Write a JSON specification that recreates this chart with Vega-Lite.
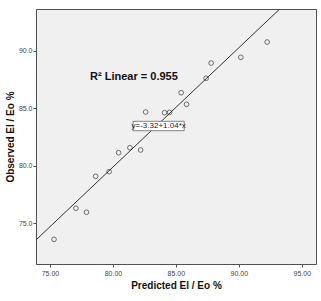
{
  "$schema": "https://vega.github.io/schema/vega-lite/v6.json",
  "width": 280,
  "height": 255,
  "autosize": {"type": "none"},
  "padding": {"left": 36, "top": 9, "right": 5, "bottom": 37},
  "background": "white",
  "config": {
    "view": {"fill": "#f0f0f0", "stroke": "#505050", "strokeWidth": 1},
    "font": "Liberation Sans",
    "axis": {
      "grid": false,
      "domain": false,
      "tickColor": "#555555",
      "tickSize": 3,
      "labelFontSize": 7,
      "labelColor": "#444444",
      "titleFontSize": 10,
      "titleFontWeight": "bold",
      "titleColor": "#111111"
    }
  },
  "datasets": {
    "points": [
      {"pred": 75.32, "obs": 73.58},
      {"pred": 77.06, "obs": 76.29},
      {"pred": 77.9, "obs": 75.94},
      {"pred": 78.63, "obs": 79.07},
      {"pred": 79.7, "obs": 79.48},
      {"pred": 80.45, "obs": 81.13},
      {"pred": 81.35, "obs": 81.57},
      {"pred": 82.2, "obs": 81.37},
      {"pred": 82.6, "obs": 84.68},
      {"pred": 84.1, "obs": 84.62},
      {"pred": 84.5, "obs": 84.65},
      {"pred": 85.42, "obs": 86.36},
      {"pred": 85.85, "obs": 85.35},
      {"pred": 87.4, "obs": 87.62},
      {"pred": 87.8, "obs": 88.95},
      {"pred": 90.16, "obs": 89.45},
      {"pred": 92.25, "obs": 90.78}
    ],
    "fit": [
      {"pred": 73.9, "obs": 73.536},
      {"pred": 96.1, "obs": 96.624}
    ],
    "box": [
      {"x1": 81.6, "x2": 85.66, "y1": 83.05, "y2": 83.87, "xc": 83.63, "yc": 83.46, "label": "y=-3.32+1.04*x"}
    ],
    "r2": [
      {"x": 81.67, "y": 87.73, "label": "R² Linear = 0.955"}
    ]
  },
  "layer": [
    {
      "data": {"name": "fit"},
      "mark": {"type": "line", "color": "#333333", "strokeWidth": 1, "clip": true},
      "encoding": {
        "x": {
          "field": "pred", "type": "quantitative",
          "scale": {"domain": [73.89, 96.13], "nice": false, "zero": false},
          "axis": {"values": [75, 80, 85, 90, 95], "format": ".2f", "title": "Predicted El / Eo %", "titlePadding": 4, "labelPadding": 2}
        },
        "y": {
          "field": "obs", "type": "quantitative",
          "scale": {"domain": [71.43, 93.66], "nice": false, "zero": false},
          "axis": {"values": [75, 80, 85, 90], "format": ".1f", "title": "Observed El / Eo %", "titlePadding": 3, "labelPadding": 1}
        }
      }
    },
    {
      "data": {"name": "points"},
      "mark": {"type": "point", "shape": "circle", "filled": false, "stroke": "#222222", "strokeWidth": 0.9, "size": 22},
      "encoding": {
        "x": {"field": "pred", "type": "quantitative"},
        "y": {"field": "obs", "type": "quantitative"}
      }
    },
    {
      "data": {"name": "box"},
      "mark": {"type": "rect", "fill": "white", "stroke": "#666666", "strokeWidth": 0.8},
      "encoding": {
        "x": {"field": "x1", "type": "quantitative"},
        "x2": {"field": "x2"},
        "y": {"field": "y1", "type": "quantitative"},
        "y2": {"field": "y2"}
      }
    },
    {
      "data": {"name": "box"},
      "mark": {"type": "text", "fontSize": 8, "color": "#222222", "align": "center", "baseline": "middle"},
      "encoding": {
        "x": {"field": "xc", "type": "quantitative"},
        "y": {"field": "yc", "type": "quantitative"},
        "text": {"field": "label"}
      }
    },
    {
      "data": {"name": "r2"},
      "mark": {"type": "text", "fontSize": 11, "fontWeight": "bold", "color": "#111111", "align": "center", "baseline": "middle"},
      "encoding": {
        "x": {"field": "x", "type": "quantitative"},
        "y": {"field": "y", "type": "quantitative"},
        "text": {"field": "label"}
      }
    }
  ]
}
